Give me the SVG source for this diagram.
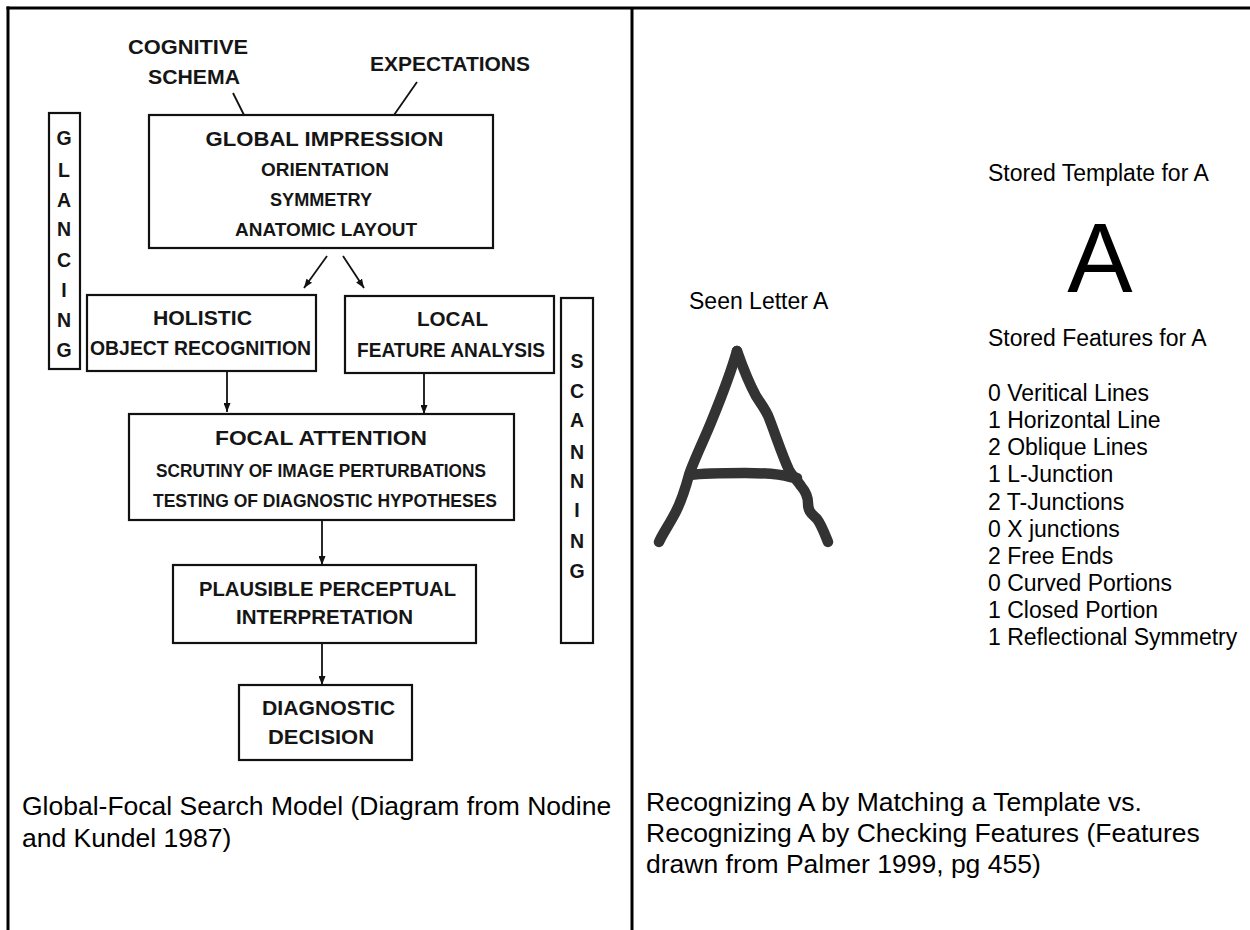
<svg xmlns="http://www.w3.org/2000/svg" width="1250" height="930" viewBox="0 0 1250 930">
<defs>
<style>
.frame{stroke:#000;stroke-width:3;fill:none}
.box{fill:#fff;stroke:#111;stroke-width:2.2}
.conn{stroke:#111;stroke-width:1.8;fill:none}
.sc{font-family:"Liberation Sans",Arial,sans-serif;font-weight:bold;fill:#151515;text-anchor:middle}
.big{font-size:20px}
.sub{font-size:18.5px}
.ltr{font-size:19.5px}
.cap{font-family:"Liberation Sans",Arial,sans-serif;font-size:26.5px;fill:#000}
.lbl{font-family:"Liberation Sans",Arial,sans-serif;font-size:23px;fill:#000}
.hand{fill:none;stroke:#333;stroke-width:10.5;stroke-linecap:round;stroke-linejoin:round}
</style>
<marker id="ah" markerUnits="userSpaceOnUse" markerWidth="9" markerHeight="7" refX="9" refY="3.5" orient="auto">
<path d="M0,0 L9,3.5 L0,7 z" fill="#111"/>
</marker>
</defs>
<rect width="1250" height="930" fill="#fff"/>
<g id="frame">
<line class="frame" x1="6.5" y1="8" x2="1250" y2="8"/>
<line class="frame" x1="8" y1="6.5" x2="8" y2="930"/>
<line class="frame" x1="632" y1="8" x2="632" y2="930"/>
</g>
<g id="connectors">
<line class="conn" x1="233" y1="93" x2="244" y2="115"/>
<line class="conn" x1="417" y1="82" x2="394" y2="115"/>
<line class="conn" x1="327" y1="256" x2="304" y2="288" marker-end="url(#ah)"/>
<line class="conn" x1="343" y1="256" x2="364" y2="288" marker-end="url(#ah)"/>
<line class="conn" x1="227" y1="371" x2="227" y2="412" marker-end="url(#ah)"/>
<line class="conn" x1="424" y1="373" x2="424" y2="414" marker-end="url(#ah)"/>
<line class="conn" x1="322" y1="520" x2="322" y2="565" marker-end="url(#ah)"/>
<line class="conn" x1="322" y1="643" x2="322" y2="685" marker-end="url(#ah)"/>
</g>
<g id="cognitive-schema">
<text class="sc big" x="188" y="54" textLength="120" lengthAdjust="spacingAndGlyphs">COGNITIVE</text>
<text class="sc big" x="194" y="84" textLength="92" lengthAdjust="spacingAndGlyphs">SCHEMA</text>
</g>
<g id="expectations">
<text class="sc big" x="450" y="71" textLength="160" lengthAdjust="spacingAndGlyphs">EXPECTATIONS</text>
</g>
<g id="global-impression">
<rect class="box" x="149" y="115" width="344" height="133"/>
<text class="sc big" x="324.5" y="146" textLength="238" lengthAdjust="spacingAndGlyphs">GLOBAL IMPRESSION</text>
<text class="sc sub" x="325" y="176" textLength="128" lengthAdjust="spacingAndGlyphs">ORIENTATION</text>
<text class="sc sub" x="321" y="206" textLength="102" lengthAdjust="spacingAndGlyphs">SYMMETRY</text>
<text class="sc sub" x="326" y="236" textLength="182" lengthAdjust="spacingAndGlyphs">ANATOMIC LAYOUT</text>
</g>
<g id="glancing">
<rect class="box" x="49" y="113" width="31" height="256"/>
<text class="sc ltr" x="64" y="145">G</text>
<text class="sc ltr" x="64" y="177">L</text>
<text class="sc ltr" x="64" y="207">A</text>
<text class="sc ltr" x="64" y="236">N</text>
<text class="sc ltr" x="64" y="267">C</text>
<text class="sc ltr" x="64" y="297">I</text>
<text class="sc ltr" x="64" y="327">N</text>
<text class="sc ltr" x="64" y="357">G</text>
</g>
<g id="holistic">
<rect class="box" x="87" y="295" width="229" height="76"/>
<text class="sc big" x="202.5" y="325" textLength="99" lengthAdjust="spacingAndGlyphs">HOLISTIC</text>
<text class="sc big" x="200.5" y="355" textLength="221" lengthAdjust="spacingAndGlyphs">OBJECT RECOGNITION</text>
</g>
<g id="local">
<rect class="box" x="345" y="296" width="209" height="77"/>
<text class="sc big" x="452.5" y="326" textLength="71" lengthAdjust="spacingAndGlyphs">LOCAL</text>
<text class="sc big" x="451" y="357" textLength="188" lengthAdjust="spacingAndGlyphs">FEATURE ANALYSIS</text>
</g>
<g id="scanning">
<rect class="box" x="561" y="298" width="32" height="345"/>
<text class="sc ltr" x="577" y="368">S</text>
<text class="sc ltr" x="577" y="398">C</text>
<text class="sc ltr" x="577" y="427">A</text>
<text class="sc ltr" x="577" y="459">N</text>
<text class="sc ltr" x="577" y="488">N</text>
<text class="sc ltr" x="577" y="517">I</text>
<text class="sc ltr" x="577" y="548">N</text>
<text class="sc ltr" x="577" y="578">G</text>
</g>
<g id="focal-attention">
<rect class="box" x="129" y="414" width="385" height="106"/>
<text class="sc big" x="321" y="445" textLength="212" lengthAdjust="spacingAndGlyphs">FOCAL ATTENTION</text>
<text class="sc sub" x="321" y="477" textLength="330" lengthAdjust="spacingAndGlyphs">SCRUTINY OF IMAGE PERTURBATIONS</text>
<text class="sc sub" x="325" y="507" textLength="344" lengthAdjust="spacingAndGlyphs">TESTING OF DIAGNOSTIC HYPOTHESES</text>
</g>
<g id="plausible">
<rect class="box" x="173" y="565" width="303" height="78"/>
<text class="sc big" x="327.5" y="596" textLength="257" lengthAdjust="spacingAndGlyphs">PLAUSIBLE PERCEPTUAL</text>
<text class="sc big" x="324.5" y="624" textLength="177" lengthAdjust="spacingAndGlyphs">INTERPRETATION</text>
</g>
<g id="diagnostic">
<rect class="box" x="239" y="685" width="173" height="75"/>
<text class="sc big" x="328.5" y="715" textLength="133" lengthAdjust="spacingAndGlyphs">DIAGNOSTIC</text>
<text class="sc big" x="321" y="744" textLength="106" lengthAdjust="spacingAndGlyphs">DECISION</text>
</g>
<g id="caption-left">
<text class="cap" x="22" y="815">Global-Focal Search Model (Diagram from Nodine</text>
<text class="cap" x="22" y="847">and Kundel 1987)</text>
</g>
<g id="seen-letter">
<text class="lbl" x="689" y="309">Seen Letter A</text>
<path class="hand" d="M737,351 C731,372 721,398 712,420 C704,440 694,460 689,475 C685,490 680,505 673,517 C667,528 662,535 659,542"/>
<path class="hand" d="M737,351 C743,368 750,385 756,396 C761,404 766,410 769,418 C776,436 782,455 789,470 C793,477 797,480 801,486 C806,492 808,496 808,503 C808,512 812,514 817,519 C821,524 824,532 828,542"/>
<path class="hand" d="M690,475 C705,473 725,473 745,473 C765,473 780,474 790,477 L797,478"/>
</g>
<g id="template">
<text class="lbl" x="988" y="181">Stored Template for A</text>
<text x="1100" y="292" font-family="Liberation Sans, Arial, sans-serif" font-size="98" text-anchor="middle" fill="#000">A</text>
</g>
<g id="features">
<text class="lbl" x="988" y="346">Stored Features for A</text>
<text class="lbl" x="988" y="401">0 Veritical Lines</text>
<text class="lbl" x="988" y="428">1 Horizontal Line</text>
<text class="lbl" x="988" y="455">2 Oblique Lines</text>
<text class="lbl" x="988" y="482">1 L-Junction</text>
<text class="lbl" x="988" y="510">2 T-Junctions</text>
<text class="lbl" x="988" y="537">0 X junctions</text>
<text class="lbl" x="988" y="564">2 Free Ends</text>
<text class="lbl" x="988" y="591">0 Curved Portions</text>
<text class="lbl" x="988" y="618">1 Closed Portion</text>
<text class="lbl" x="988" y="645">1 Reflectional Symmetry</text>
</g>
<g id="caption-right">
<text class="cap" x="646" y="811">Recognizing A by Matching a Template vs.</text>
<text class="cap" x="646" y="842">Recognizing A by Checking Features (Features</text>
<text class="cap" x="646" y="873">drawn from Palmer 1999, pg 455)</text>
</g>
</svg>
